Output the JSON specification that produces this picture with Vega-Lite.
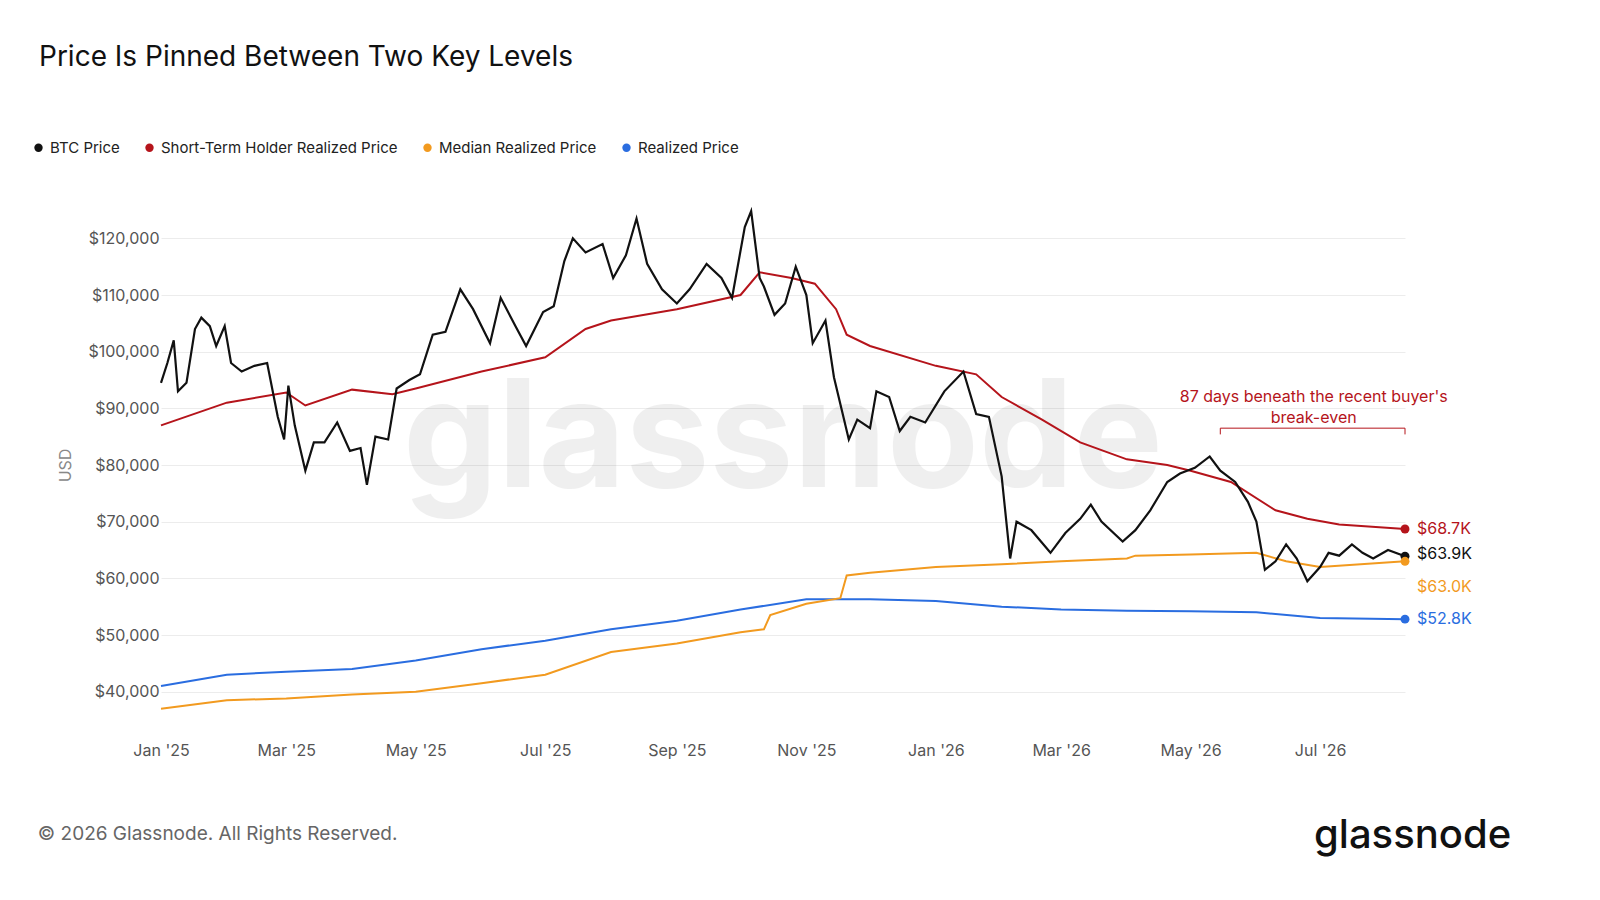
{
"$schema":"https://vega.github.io/schema/vega-lite/v6.json",
"width":1244,"height":510,
"autosize":"none",
"padding":{"left":161,"top":210,"right":195,"bottom":180},
"background":"white",
"config":{"view":{"stroke":null},"font":"Inter"},
"title":{"text":"Price Is Pinned Between Two Key Levels","anchor":"start","frame":"group","dx":-122,"offset":68,"fontSize":28,"fontWeight":"normal","color":"#111"},
"datasets":{
"btc":[
{"d":"2025-01-01","v":94500},{"d":"2025-01-04","v":98000},{"d":"2025-01-07","v":102000},{"d":"2025-01-09","v":93000},{"d":"2025-01-13","v":94500},{"d":"2025-01-17","v":104000},{"d":"2025-01-20","v":106000},{"d":"2025-01-24","v":104500},{"d":"2025-01-27","v":101000},{"d":"2025-01-31","v":104500},{"d":"2025-02-03","v":98000},{"d":"2025-02-08","v":96500},{"d":"2025-02-14","v":97500},{"d":"2025-02-20","v":98000},{"d":"2025-02-25","v":88500},{"d":"2025-02-28","v":84500},{"d":"2025-03-02","v":94000},{"d":"2025-03-05","v":87000},{"d":"2025-03-10","v":79000},{"d":"2025-03-14","v":84000},{"d":"2025-03-19","v":84000},{"d":"2025-03-25","v":87500},{"d":"2025-03-31","v":82500},{"d":"2025-04-05","v":83000},{"d":"2025-04-08","v":76500},{"d":"2025-04-12","v":85000},{"d":"2025-04-18","v":84500},{"d":"2025-04-22","v":93500},{"d":"2025-04-28","v":95000},{"d":"2025-05-03","v":96000},{"d":"2025-05-09","v":103000},{"d":"2025-05-15","v":103500},{"d":"2025-05-22","v":111000},{"d":"2025-05-28","v":107500},{"d":"2025-06-05","v":101500},{"d":"2025-06-10","v":109500},{"d":"2025-06-17","v":104500},{"d":"2025-06-22","v":101000},{"d":"2025-06-30","v":107000},{"d":"2025-07-05","v":108000},{"d":"2025-07-10","v":116000},{"d":"2025-07-14","v":120000},{"d":"2025-07-20","v":117500},{"d":"2025-07-28","v":119000},{"d":"2025-08-02","v":113000},{"d":"2025-08-08","v":117000},{"d":"2025-08-13","v":123500},{"d":"2025-08-18","v":115500},{"d":"2025-08-25","v":111000},{"d":"2025-09-01","v":108500},{"d":"2025-09-07","v":111000},{"d":"2025-09-15","v":115500},{"d":"2025-09-22","v":113000},{"d":"2025-09-27","v":109500},{"d":"2025-10-03","v":122000},{"d":"2025-10-06","v":124800},{"d":"2025-10-10","v":113000},{"d":"2025-10-12","v":111500},{"d":"2025-10-17","v":106500},{"d":"2025-10-22","v":108500},{"d":"2025-10-27","v":115000},{"d":"2025-11-01","v":110000},{"d":"2025-11-04","v":101500},{"d":"2025-11-10","v":105500},{"d":"2025-11-14","v":95500},{"d":"2025-11-21","v":84500},{"d":"2025-11-25","v":88000},{"d":"2025-12-01","v":86500},{"d":"2025-12-04","v":93000},{"d":"2025-12-10","v":92000},{"d":"2025-12-15","v":86000},{"d":"2025-12-20","v":88500},{"d":"2025-12-27","v":87500},{"d":"2026-01-05","v":93000},{"d":"2026-01-14","v":96500},{"d":"2026-01-20","v":89000},{"d":"2026-01-26","v":88500},{"d":"2026-02-01","v":78000},{"d":"2026-02-05","v":63500},{"d":"2026-02-08","v":70000},{"d":"2026-02-15","v":68500},{"d":"2026-02-24","v":64500},{"d":"2026-03-03","v":68000},{"d":"2026-03-10","v":70500},{"d":"2026-03-15","v":73000},{"d":"2026-03-20","v":70000},{"d":"2026-03-30","v":66500},{"d":"2026-04-05","v":68500},{"d":"2026-04-12","v":72000},{"d":"2026-04-20","v":77000},{"d":"2026-04-26","v":78500},{"d":"2026-05-03","v":79500},{"d":"2026-05-10","v":81500},{"d":"2026-05-15","v":79000},{"d":"2026-05-22","v":77000},{"d":"2026-05-28","v":73500},{"d":"2026-06-01","v":70000},{"d":"2026-06-05","v":61500},{"d":"2026-06-10","v":63000},{"d":"2026-06-15","v":66000},{"d":"2026-06-20","v":63500},{"d":"2026-06-25","v":59500},{"d":"2026-07-01","v":62000},{"d":"2026-07-05","v":64500},{"d":"2026-07-10","v":64000},{"d":"2026-07-16","v":66000},{"d":"2026-07-21","v":64500},{"d":"2026-07-26","v":63500},{"d":"2026-08-02","v":65000},{"d":"2026-08-10","v":63900}],
"sth":[
{"d":"2025-01-01","v":87000},{"d":"2025-02-01","v":91000},{"d":"2025-03-01","v":92800},{"d":"2025-03-10","v":90500},{"d":"2025-04-01","v":93300},{"d":"2025-04-20","v":92500},{"d":"2025-05-01","v":93500},{"d":"2025-06-01","v":96500},{"d":"2025-07-01","v":99000},{"d":"2025-07-20","v":104000},{"d":"2025-08-01","v":105500},{"d":"2025-09-01","v":107500},{"d":"2025-10-01","v":110000},{"d":"2025-10-10","v":114000},{"d":"2025-10-25","v":113000},{"d":"2025-11-05","v":112000},{"d":"2025-11-15","v":107500},{"d":"2025-11-20","v":103000},{"d":"2025-12-01","v":101000},{"d":"2026-01-01","v":97500},{"d":"2026-01-20","v":96000},{"d":"2026-02-01","v":92000},{"d":"2026-02-20","v":88000},{"d":"2026-03-10","v":84000},{"d":"2026-04-01","v":81000},{"d":"2026-04-20","v":80000},{"d":"2026-05-01","v":79000},{"d":"2026-05-20","v":77000},{"d":"2026-06-10","v":72000},{"d":"2026-06-25","v":70500},{"d":"2026-07-10","v":69500},{"d":"2026-08-10","v":68700}],
"med":[
{"d":"2025-01-01","v":37000},{"d":"2025-02-01","v":38500},{"d":"2025-03-01","v":38800},{"d":"2025-04-01","v":39500},{"d":"2025-05-01","v":40000},{"d":"2025-06-01","v":41500},{"d":"2025-07-01","v":43000},{"d":"2025-08-01","v":47000},{"d":"2025-09-01","v":48500},{"d":"2025-10-01","v":50500},{"d":"2025-10-12","v":51000},{"d":"2025-10-15","v":53500},{"d":"2025-11-01","v":55500},{"d":"2025-11-17","v":56500},{"d":"2025-11-20","v":60500},{"d":"2025-12-01","v":61000},{"d":"2026-01-01","v":62000},{"d":"2026-02-01","v":62500},{"d":"2026-03-01","v":63000},{"d":"2026-04-01","v":63500},{"d":"2026-04-05","v":64000},{"d":"2026-05-01","v":64200},{"d":"2026-06-01","v":64500},{"d":"2026-06-15","v":63000},{"d":"2026-07-01","v":62000},{"d":"2026-08-10","v":63000}],
"rp":[
{"d":"2025-01-01","v":41000},{"d":"2025-02-01","v":43000},{"d":"2025-03-01","v":43500},{"d":"2025-04-01","v":44000},{"d":"2025-05-01","v":45500},{"d":"2025-06-01","v":47500},{"d":"2025-07-01","v":49000},{"d":"2025-08-01","v":51000},{"d":"2025-09-01","v":52500},{"d":"2025-10-01","v":54500},{"d":"2025-11-01","v":56300},{"d":"2025-12-01","v":56300},{"d":"2026-01-01","v":56000},{"d":"2026-02-01","v":55000},{"d":"2026-03-01","v":54500},{"d":"2026-04-01","v":54300},{"d":"2026-05-01","v":54200},{"d":"2026-06-01","v":54000},{"d":"2026-07-01","v":53000},{"d":"2026-08-10","v":52800}],
"ends":[
{"d":"2026-08-10","v":68700,"ly":68700,"t":"$68.7K","s":"Short-Term Holder Realized Price"},
{"d":"2026-08-10","v":63900,"ly":64300,"t":"$63.9K","s":"BTC Price"},
{"d":"2026-08-10","v":63000,"ly":58500,"t":"$63.0K","s":"Median Realized Price"},
{"d":"2026-08-10","v":52800,"ly":52800,"t":"$52.8K","s":"Realized Price"}]
},
"encoding":{
"x":{"field":"d","type":"temporal","scale":{"domain":["2025-01-01","2026-08-10"]},
 "axis":{"format":"%b '%y","tickCount":{"interval":"month","step":2},"grid":false,"domain":false,"ticks":false,"labelFlush":false,"labelPadding":22,"labelFontSize":16,"labelColor":"#555","title":null}},
"y":{"field":"v","type":"quantitative","scale":{"domain":[35000,125000]},
 "axis":{"values":[40000,50000,60000,70000,80000,90000,100000,110000,120000],"format":"$,.0f","domain":false,"ticks":false,"labelPadding":2,"labelFontSize":16,"labelColor":"#555","gridColor":"#ececec","title":"USD","titleFontSize":16,"titleColor":"#888","titleFontWeight":"normal","titlePadding":14}},
"color":{"field":"s","type":"nominal","scale":{"domain":["BTC Price","Short-Term Holder Realized Price","Median Realized Price","Realized Price"],"range":["#111111","#b5141b","#f29a1f","#2a6de0"]},
 "legend":{"orient":"none","legendX":-130,"legendY":-70,"direction":"horizontal","title":null,"symbolType":"circle","symbolSize":70,"labelFontSize":15,"labelColor":"#222","labelLimit":400,"columnPadding":22,"symbolStrokeWidth":0}}
},
"layer":[
{"mark":{"type":"text","fontSize":150,"fontWeight":"bold","color":"#000","opacity":0.06},"data":{"values":[{"d":"2025-10-21","v":84000,"t":"glassnode"}]},"encoding":{"text":{"field":"t"},"color":{"value":"#000"}}},
{"mark":{"type":"line","strokeWidth":2},"data":{"name":"rp"},"encoding":{"color":{"datum":"Realized Price"}}},
{"mark":{"type":"line","strokeWidth":2},"data":{"name":"med"},"encoding":{"color":{"datum":"Median Realized Price"}}},
{"mark":{"type":"line","strokeWidth":2},"data":{"name":"sth"},"encoding":{"color":{"datum":"Short-Term Holder Realized Price"}}},
{"mark":{"type":"line","strokeWidth":2.2},"data":{"name":"btc"},"encoding":{"color":{"datum":"BTC Price"}}},
{"mark":{"type":"circle","size":80,"opacity":1},"data":{"name":"ends"},"encoding":{"color":{"field":"s"}}},
{"mark":{"type":"text","align":"left","dx":12,"fontSize":16},"data":{"name":"ends"},"encoding":{"y":{"field":"ly","type":"quantitative"},"text":{"field":"t"},"color":{"field":"s"}}},
{"mark":{"type":"rule","color":"#b5141b","strokeWidth":1},"data":{"values":[{"a":"2026-05-15","b":"2026-08-10","y":86500}]},"encoding":{"x":{"field":"a","type":"temporal"},"x2":{"field":"b"},"y":{"field":"y","type":"quantitative"},"color":{"value":"#b5141b"}}},
{"mark":{"type":"rule","color":"#b5141b","strokeWidth":1},"data":{"values":[{"a":"2026-05-15","y":86500,"y2":85400},{"a":"2026-08-10","y":86500,"y2":85400}]},"encoding":{"x":{"field":"a","type":"temporal"},"y":{"field":"y","type":"quantitative"},"y2":{"field":"y2"},"color":{"value":"#b5141b"}}},
{"mark":{"type":"text","fontSize":16,"align":"center","lineHeight":21},"data":{"values":[{"d":"2026-06-28","v":92000,"t":["87 days beneath the recent buyer's","break-even"]}]},"encoding":{"text":{"field":"t"},"color":{"value":"#b5141b"}}},
{"mark":{"type":"text","fontSize":19,"align":"left","clip":false},"data":{"values":[{"d":"2024-11-04","v":14800,"t":"© 2026 Glassnode. All Rights Reserved."}]},"encoding":{"text":{"field":"t"},"color":{"value":"#666"}}},
{"mark":{"type":"text","fontSize":40,"fontWeight":500,"align":"right","clip":false,"letterSpacing":-1},"data":{"values":[{"d":"2026-09-29","v":14500,"t":"glassnode"}]},"encoding":{"text":{"field":"t"},"color":{"value":"#111"}}}
]
}
